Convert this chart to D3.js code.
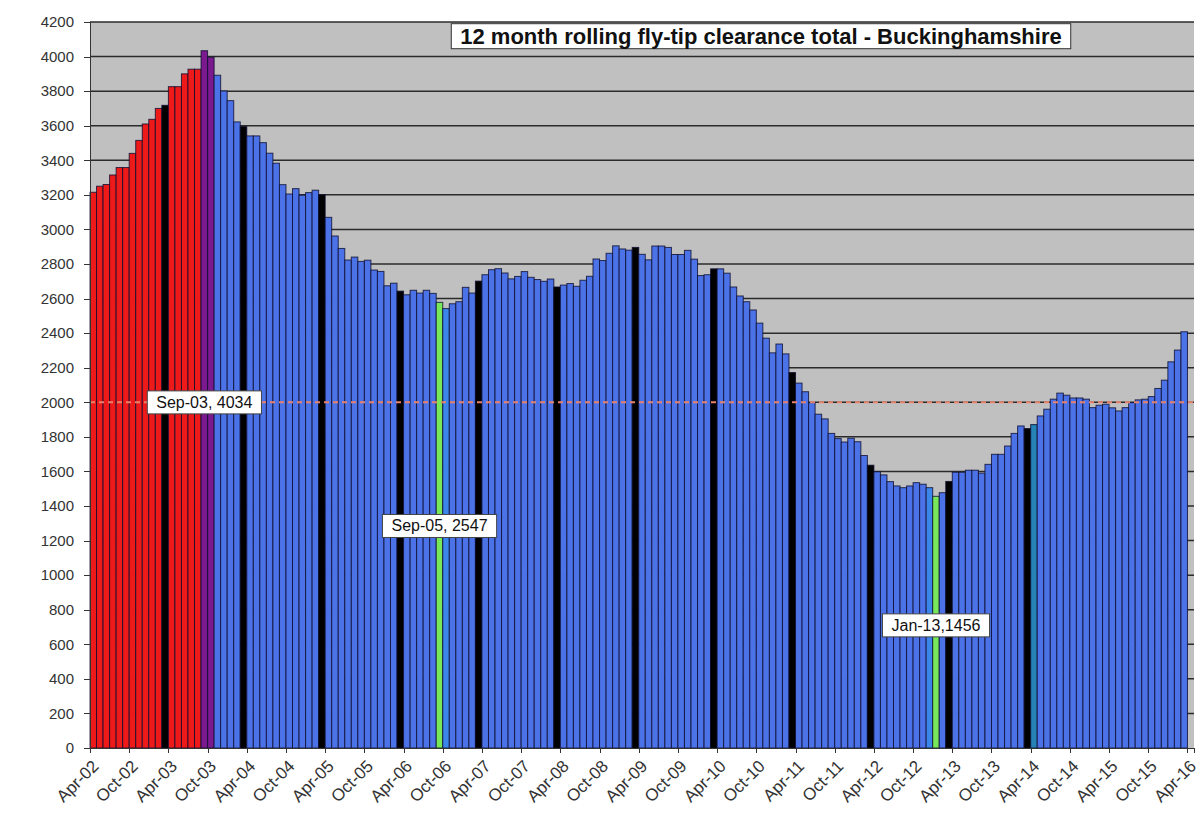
<!DOCTYPE html>
<html>
<head>
<meta charset="utf-8">
<style>
body { margin: 0; background: #fff; }
text { font-family: "Liberation Sans", Arial, sans-serif; }
.axis path, .axis line { stroke: #333; shape-rendering: crispEdges; }
.axis text { font-size: 15px; fill: #333; }
</style>
</head>
<body>
<script src="https://d3js.org/d3.v7.min.js"></script>
<script>

// 12 month rolling totals, Apr-02 .. Mar-16 (one value per month)
var totals = [
  3215, 3250, 3260, 3315, 3358, 3358, 3440, 3515, 3610, 3637, 3700, 3718,
  3826, 3826, 3900, 3927, 3927, 4034, 3996, 3892, 3801, 3745, 3622, 3595,
  3541, 3541, 3502, 3441, 3383, 3259, 3205, 3236, 3198, 3213, 3227, 3200,
  3070, 2962, 2890, 2823, 2840, 2815, 2822, 2765, 2757, 2674, 2689, 2643,
  2622, 2648, 2632, 2648, 2630, 2578, 2542, 2570, 2582, 2665, 2632, 2701,
  2738, 2767, 2773, 2748, 2714, 2728, 2756, 2723, 2710, 2700, 2713, 2667,
  2678, 2687, 2671, 2706, 2729, 2829, 2820, 2862, 2905, 2887, 2880, 2896,
  2856, 2824, 2904, 2904, 2896, 2855, 2855, 2879, 2828, 2733, 2738, 2772,
  2772, 2747, 2667, 2615, 2582, 2534, 2458, 2371, 2286, 2337, 2280, 2172,
  2111, 2061, 1998, 1931, 1904, 1820, 1790, 1770, 1792, 1772, 1692, 1636,
  1598, 1580, 1541, 1516, 1506, 1516, 1535, 1526, 1506, 1456, 1477, 1542,
  1595, 1595, 1607, 1607, 1590, 1641, 1699, 1699, 1747, 1820, 1863, 1848,
  1871, 1921, 1960, 2018, 2053, 2041, 2025, 2025, 2018, 1969, 1983, 1989,
  1968, 1950, 1969, 1998, 2014, 2018, 2033, 2080, 2128, 2234, 2302, 2408
];

var tickLabels = ["Apr-02","Oct-02","Apr-03","Oct-03","Apr-04","Oct-04","Apr-05",
  "Oct-05","Apr-06","Oct-06","Apr-07","Oct-07","Apr-08","Oct-08","Apr-09","Oct-09",
  "Apr-10","Oct-10","Apr-11","Oct-11","Apr-12","Oct-12","Apr-13","Oct-13","Apr-14",
  "Oct-14","Apr-15","Oct-15","Apr-16"];

var yTicks = d3.range(0, 4201, 200);

// months with special colours
var purpleMonths = ["Sep-03", "Oct-03"];
var greenMonths = ["Sep-06", "Jan-13"];
var tealMonths = ["Apr-14"];
var lightMonths = ["Oct-06", "Dec-12"];
var lastRed = 16; // Apr-02 .. Aug-03 in red
var lastBlackYear = 2014;

var target = 2000;

// annotations: month, label text, value level of the box centre
var notes = [
  {month: "Sep-03", text: "Sep-03, 4034", level: 2000},
  {month: "Sep-06", text: "Sep-05, 2547", level: 1285},
  {month: "Jan-13", text: "Jan-13,1456", level: 710}
];

var fmt = d3.timeFormat("%b-%y");
var months = d3.timeMonths(new Date(2002, 3, 1), new Date(2016, 4, 1)).map(fmt);
var data = totals.map(function(v, i) {
  return {month: months[i], value: v, i: i};
});

var width = 1203, height = 831;
var margin = {left: 90, right: 1194, top: 22, bottom: 748};

var svg = d3.select("body").append("svg")
    .attr("width", width)
    .attr("height", height);

var x = d3.scaleBand()
    .domain(months)
    .range([margin.left, margin.right])
    .padding(0);

// same range, by month index, for the tick marks between bars
var xi = d3.scaleLinear()
    .domain([0, months.length])
    .range([margin.left, margin.right]);

var y = d3.scaleLinear()
    .domain([0, 4200])
    .range([margin.bottom, margin.top]);

// plot background
svg.append("rect")
    .attr("x", margin.left)
    .attr("y", margin.top)
    .attr("width", margin.right - margin.left)
    .attr("height", margin.bottom - margin.top)
    .attr("fill", "#c0c0c0");

// gridlines
svg.append("g")
  .selectAll("line")
  .data(yTicks.filter(function(d) { return d > 0; }))
  .enter().append("line")
    .attr("x1", margin.left)
    .attr("x2", margin.right)
    .attr("y1", function(d) { return y(d); })
    .attr("y2", function(d) { return y(d); })
    .attr("stroke", "#2b2b2b")
    .attr("stroke-width", 1.5);

function barColour(d) {
  if (purpleMonths.indexOf(d.month) >= 0) return "#7a1a8e";
  if (greenMonths.indexOf(d.month) >= 0) return "#78e85a";
  if (tealMonths.indexOf(d.month) >= 0) return "#2583b5";
  var yr = 2000 + (+d.month.slice(4));
  if (d.month.slice(0, 3) == "Mar" && yr <= lastBlackYear) return "#000";
  if (d.i <= lastRed) return "#ee1a1a";
  if (lightMonths.indexOf(d.month) >= 0) return "#3b86ea";
  return "#4b72e6";
}

// bars
svg.append("g")
  .selectAll("rect")
  .data(data)
  .enter().append("rect")
    .attr("x", function(d) { return x(d.month); })
    .attr("y", function(d) { return y(d.value); })
    .attr("width", x.bandwidth())
    .attr("height", function(d) { return margin.bottom - y(d.value); })
    .attr("fill", barColour)
    .attr("stroke", "#0d0d30")
    .attr("stroke-opacity", 0.8)
    .attr("stroke-width", 1);

// target line at 2000
svg.append("line")
    .attr("x1", margin.left)
    .attr("x2", margin.right)
    .attr("y1", y(target))
    .attr("y2", y(target))
    .attr("stroke", "#e8826c")
    .attr("stroke-width", 2)
    .attr("stroke-dasharray", "5,4");

// axes
svg.append("g")
    .attr("class", "axis")
    .attr("transform", "translate(" + margin.left + ",0)")
    .call(d3.axisLeft(y).tickValues(yTicks).tickFormat(d3.format("d"))
      .tickSize(6).tickPadding(10));

var xAxis = svg.append("g")
    .attr("class", "axis")
    .attr("transform", "translate(0," + margin.bottom + ")")
    .call(d3.axisBottom(xi)
      .tickValues(d3.range(0, months.length, 6))
      .tickFormat(function(d, i) { return tickLabels[i]; })
      .tickSize(5));

xAxis.selectAll("text")
    .attr("x", 0)
    .attr("y", 0)
    .attr("dy", "0.35em")
    .attr("text-anchor", "end")
    .style("font-size", "17px")
    .attr("transform", "translate(5,15) rotate(-45)");

// annotation boxes
var note = svg.append("g")
  .selectAll("g")
  .data(notes)
  .enter().append("g")
    .attr("transform", function(d) {
      return "translate(" + (x(d.month) + x.bandwidth() / 2) + "," + y(d.level) + ")";
    });

note.append("text")
    .attr("text-anchor", "middle")
    .attr("dy", "0.35em")
    .style("font-size", "16px")
    .attr("fill", "#111")
    .text(function(d) { return d.text; });

note.insert("rect", "text")
    .each(function() {
      var b = this.parentNode.querySelector("text").getBBox();
      d3.select(this)
        .attr("x", b.x - 9)
        .attr("y", b.y - 3)
        .attr("width", b.width + 18)
        .attr("height", b.height + 6);
    })
    .attr("fill", "#fff")
    .attr("stroke", "#444")
    .attr("stroke-width", 1);

// title box
var title = svg.append("g");
title.append("text")
    .attr("x", 761)
    .attr("y", 36)
    .attr("dy", "0.35em")
    .attr("text-anchor", "middle")
    .style("font-size", "22px")
    .style("font-weight", "bold")
    .attr("fill", "#111")
    .text("12 month rolling fly-tip clearance total - Buckinghamshire");

var tb = title.select("text").node().getBBox();
title.insert("rect", "text")
    .attr("x", tb.x - 9)
    .attr("y", tb.y)
    .attr("width", tb.width + 18)
    .attr("height", tb.height)
    .attr("fill", "#fff")
    .attr("stroke", "#333")
    .attr("stroke-width", 1);

</script>
</body>
</html>
